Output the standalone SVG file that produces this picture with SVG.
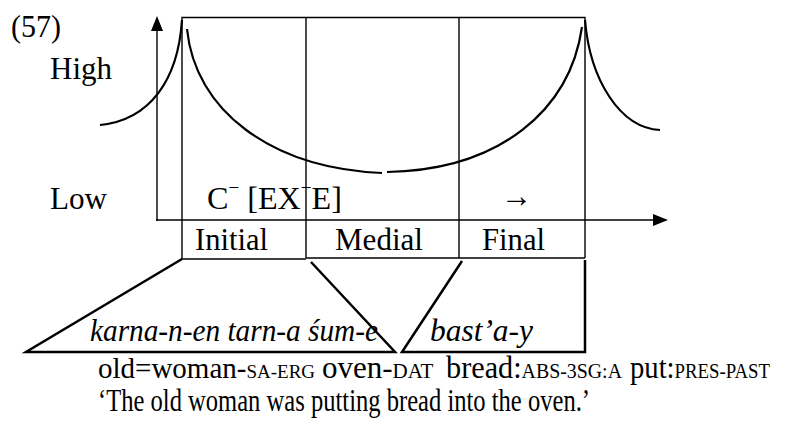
<svg xmlns="http://www.w3.org/2000/svg" width="805" height="426" viewBox="0 0 805 426">
<style>
text{font-family:"Liberation Serif","Times New Roman",serif;fill:#000}
.t{font-size:32px}
.lab{font-size:32px}
.g{font-size:32px}
.it{font-size:31px;font-style:italic}
.sc{font-size:21px}
.ln{stroke:#000;fill:none;stroke-width:1.4}
.cv{stroke:#000;fill:none;stroke-width:2.2}
.con{stroke:#000;fill:none;stroke-width:2.5}
</style>
<rect width="805" height="426" fill="#fff"/>
<text class="t" x="11" y="37" textLength="50" lengthAdjust="spacingAndGlyphs">(57)</text>
<g id="axes">
<line class="ln" x1="157" y1="221" x2="157" y2="19"/>
<path d="M157,16 L151,31 L163,31 Z" fill="#000"/>
<line class="ln" x1="156" y1="220" x2="655" y2="220"/>
<path d="M668,220 L653,214 L653,226 Z" fill="#000"/>
<text class="t" x="50" y="79" textLength="62" lengthAdjust="spacingAndGlyphs">High</text>
<text class="t" x="50" y="209" textLength="57" lengthAdjust="spacingAndGlyphs">Low</text>
</g>
<g id="grid">
<polyline class="ln" points="182,259 182,17.5 585,17.5 585,220"/>
<line class="ln" x1="306" y1="17.5" x2="306" y2="258"/>
<line class="ln" x1="459" y1="17.5" x2="459" y2="258"/>
<line class="ln" x1="182" y1="259" x2="306" y2="259"/>
<line class="ln" x1="306" y1="258" x2="585" y2="258"/>
<line class="ln" x1="585" y1="220" x2="585" y2="258"/>
</g>
<g id="curves">
<path class="cv" d="M100,125 C150,120 178,80 182,20"/>
<path class="cv" d="M187,29 C195,110 270,168 382,173"/>
<path class="cv" d="M387,172 C500,170 570,110 582,27"/>
<path class="cv" d="M585,20 C590,80 620,128 660,130"/>
</g>
<g id="phase-label">
<text class="lab" x="207" y="209" textLength="135" lengthAdjust="spacingAndGlyphs">C<tspan font-size="19" dy="-15">−</tspan><tspan dy="15"> [EX</tspan><tspan font-size="19" dy="-15">−</tspan><tspan dy="15">E]</tspan></text>
<text x="501" y="207" font-size="34" textLength="31" lengthAdjust="spacingAndGlyphs">→</text>
</g>
<g id="initial"><text class="lab" x="195" y="250" textLength="73" lengthAdjust="spacingAndGlyphs">Initial</text></g>
<g id="medial"><text class="lab" x="335" y="250" textLength="88" lengthAdjust="spacingAndGlyphs">Medial</text></g>
<g id="final"><text class="lab" x="482" y="250" textLength="63" lengthAdjust="spacingAndGlyphs">Final</text></g>
<g id="connectors">
<polyline class="con" points="182,259 26,352 395,352 311,262"/>
<polyline class="con" points="462,261 402,352 585,352 585,260"/>
</g>
<g id="example">
<text class="it" x="90" y="341" textLength="288" lengthAdjust="spacingAndGlyphs">karna-n-en tarn-a śum-e</text>
<text class="it" x="430" y="341" textLength="103" lengthAdjust="spacingAndGlyphs">bast’a-y</text>
<text x="98" y="378" font-size="29">old=woman-<tspan font-size="19">SA-ERG</tspan></text>
<text x="322" y="378" font-size="31">oven-<tspan font-size="21">DAT</tspan></text>
<text class="g" x="446" y="378" textLength="176" lengthAdjust="spacingAndGlyphs">bread:<tspan class="sc">ABS-3SG:A</tspan></text>
<text class="g" x="630" y="378" textLength="140" lengthAdjust="spacingAndGlyphs">put:<tspan class="sc">PRES-PAST</tspan></text>
<text class="g" x="98" y="411" textLength="492" lengthAdjust="spacingAndGlyphs">‘The old woman was putting bread into the oven.’</text>
</g>
</svg>
